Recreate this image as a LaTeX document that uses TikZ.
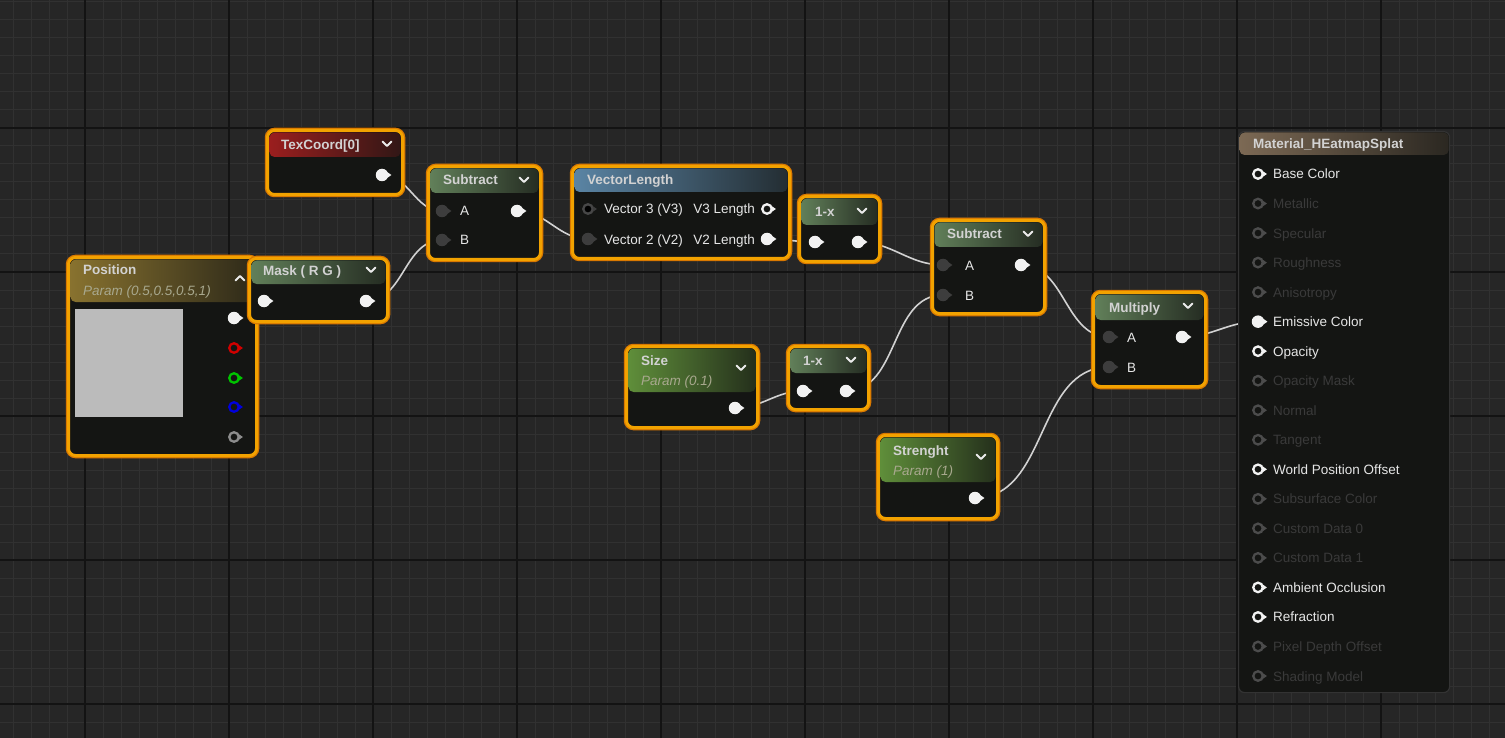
\documentclass[tikz,border=0pt]{standalone}
\usepackage{fontspec}
\setmainfont{Liberation Sans}
\definecolor{canvas}{HTML}{262626}
\definecolor{minorline}{HTML}{313131}
\definecolor{majorline}{HTML}{131313}
\definecolor{body}{HTML}{141513}
\definecolor{selorange}{HTML}{F2A200}
\definecolor{seldeep}{HTML}{D97800}
\definecolor{wirecol}{HTML}{D2D2D2}
\definecolor{titlecol}{HTML}{D2D2D2}
\definecolor{paramcol}{HTML}{A8A88E}
\definecolor{pinon}{HTML}{F2F2F2}
\definecolor{pinoff}{HTML}{3D3D3D}
\definecolor{redhead}{HTML}{9A1E1E}
\definecolor{mathhead}{HTML}{617F59}
\definecolor{bluehead}{HTML}{5A84A4}
\definecolor{paramhead}{HTML}{5F8E3A}
\definecolor{goldhead}{HTML}{88722F}
\definecolor{mathead}{HTML}{7C6954}
\definecolor{preview}{HTML}{BBBBBB}
\definecolor{posred}{HTML}{D00000}
\definecolor{posgreen}{HTML}{00C400}
\definecolor{posblue}{HTML}{0000DD}
\definecolor{posgrey}{HTML}{8C8C8C}
\definecolor{txtlive}{HTML}{E6E6E6}
\definecolor{txtfull}{HTML}{E6E6E6}
\definecolor{txtdead}{HTML}{3A3A3A}
\pgfdeclarelayer{grid}
\pgfdeclarelayer{wires}
\pgfsetlayers{grid,wires,main}

\begin{document}
\begin{tikzpicture}[x=1pt, y=-1pt,
    uenode/.style={draw=selorange, line width=3, rounded corners=7, fill=body,
        preaction={draw=seldeep, line width=5.5}, anchor=north west, inner sep=0},
    matbox/.style={draw=black!80, line width=1.2, rounded corners=6, fill=body,
        anchor=north west, inner sep=0},
    header/.style={left color=#1, right color=#1!22!body, rounded corners=5},
    title/.style={text=titlecol, font=\fontsize{13.5}{16}\selectfont\bfseries, inner sep=0, anchor=base west},
    param/.style={text=paramcol, font=\fontsize{13.5}{16}\selectfont\itshape, inner sep=0, anchor=base west},
    lbl/.style={text=txtlive, font=\fontsize{13.5}{16}\selectfont, inner sep=0, anchor=base west},
    chev/.style={draw=white!92!black, line width=1.8, line cap=round, line join=round},
    sock/.style={circle, inner sep=0, minimum size=12.5},
    sockon/.style={sock, fill=pinon},
    sockoff/.style={sock, fill=pinoff},
    sockring/.style={sock, minimum size=9.5, draw=#1, line width=2.3, fill=body},
    matlive/.style={sockring=pinon},
    matdead/.style={sockring=black!70!white},
    matfull/.style={sockon},
    tiplive/.style={fill=pinon},
    tipfull/.style={fill=pinon},
    tipdead/.style={fill=black!70!white},
    wire/.style={draw=wirecol, line width=1.6}]

    \useasboundingbox (0,0) rectangle (1505,738);
    % grid
    \begin{pgfonlayer}{grid}
        \fill[canvas] (0,0) rectangle (1505,738);
        \foreach \g in {0,...,83} \draw[minorline, line width=1] (13+18*\g,0) -- (13+18*\g,738);
        \foreach \g in {0,...,41} \draw[minorline, line width=1] (0,2+18*\g) -- (1505,2+18*\g);
        \foreach \g in {0,...,9} \draw[majorline, line width=1.5] (85+144*\g,0) -- (85+144*\g,738);
        \foreach \g in {0,...,4} \draw[majorline, line width=1.5] (0,128+144*\g) -- (1505,128+144*\g);
    \end{pgfonlayer}

    % TexCoord
    \node[uenode, minimum width=135, minimum height=64] (tex) at (266,129) {};
    \shade[header=redhead] ([shift={(3.5,3.5)}]tex.north west) rectangle ([shift={(-3.5,28)}]tex.north east);
    \node[title] (text) at (281,150) {TexCoord[0]};
    \draw[chev] (382.5,141.5) -- (387,146) -- (391.5,141.5);
    \node[sockon] (texout) at (382,175) {};

    % Position
    \node[uenode, minimum width=188, minimum height=198] (pos) at (67,256) {};
    \shade[header=goldhead] ([shift={(3.5,3.5)}]pos.north west) rectangle ([shift={(-3.5,46)}]pos.north east);
    \node[title] (post) at (83,275) {Position};
    \node[param] (posp) at (83,295) {Param (0.5,0.5,0.5,1)};
    \draw[chev] (235.5,280.5) -- (240,276) -- (244.5,280.5);
    \node[fill=preview, minimum width=108, minimum height=108, inner sep=0, anchor=north west] (posview) at (75,309) {};
    \node[sockon] (posout) at (234,318) {};
    \node[sockring=posred] (posr) at (234,348) {};
    \node[sockring=posgreen] (posg) at (234,378) {};
    \node[sockring=posblue] (posb) at (234,407) {};
    \node[sockring=posgrey] (posa) at (234,437) {};

    % Mask
    \node[uenode, minimum width=138, minimum height=63] (mask) at (248,257) {};
    \shade[header=mathhead] ([shift={(3.5,3.5)}]mask.north west) rectangle ([shift={(-3.5,27)}]mask.north east);
    \node[title] (maskt) at (263,276) {Mask ( R G )};
    \draw[chev] (366.5,267.5) -- (371,272) -- (375.5,267.5);
    \node[sockon] (maskin) at (264,301) {};
    \node[sockon] (maskout) at (366,301) {};

    % Subtract 1
    \node[uenode, minimum width=112, minimum height=93] (sub1) at (427,165) {};
    \shade[header=mathhead] ([shift={(3.5,3.5)}]sub1.north west) rectangle ([shift={(-3.5,28)}]sub1.north east);
    \node[title] (sub1t) at (443,185) {Subtract};
    \draw[chev] (519.5,177.5) -- (524,182) -- (528.5,177.5);
    \node[sockoff] (sub1a) at (442,211) {};
    \node[sockoff] (sub1b) at (442,240) {};
    \node[sockon] (sub1out) at (517,211) {};
    \node[lbl] (sub1al) at (460,216) {A};
    \node[lbl] (sub1bl) at (460,245) {B};

    % VectorLength
    \node[uenode, minimum width=217, minimum height=92] (vlen) at (571,165) {};
    \shade[header=bluehead] ([shift={(3.5,3.5)}]vlen.north west) rectangle ([shift={(-3.5,27)}]vlen.north east);
    \node[title] (vlent) at (587,185) {VectorLength};
    \node[sockring=black!72!white, fill=black] (vlv3) at (588,209) {};
    \node[sockoff] (vlv2) at (588,239) {};
    \node[sockring=pinon] (vlv3out) at (767,209) {};
    \node[sockon] (vlv2out) at (767,239) {};
    \node[lbl] (vlv3l) at (604,214) {Vector 3 (V3)};
    \node[lbl] (vlv2l) at (604,244) {Vector 2 (V2)};
    \node[lbl, anchor=base east] (vlv3r) at (755,214) {V3 Length};
    \node[lbl, anchor=base east] (vlv2r) at (755,244) {V2 Length};

    % 1-x top
    \node[uenode, minimum width=80, minimum height=65] (ox1) at (798,195) {};
    \shade[header=mathhead] ([shift={(3.5,3.5)}]ox1.north west) rectangle ([shift={(-3.5,30)}]ox1.north east);
    \node[title] (ox1t) at (815,217) {1-x};
    \draw[chev] (857.5,208.5) -- (862,213) -- (866.5,208.5);
    \node[sockon] (ox1in) at (815,242) {};
    \node[sockon] (ox1out) at (858,242) {};

    % Subtract 2
    \node[uenode, minimum width=112, minimum height=93] (sub2) at (931,219) {};
    \shade[header=mathhead] ([shift={(3.5,3.5)}]sub2.north west) rectangle ([shift={(-3.5,28)}]sub2.north east);
    \node[title] (sub2t) at (947,239) {Subtract};
    \draw[chev] (1023.5,231.5) -- (1028,236) -- (1032.5,231.5);
    \node[sockoff] (sub2a) at (943,265) {};
    \node[sockoff] (sub2b) at (943,295) {};
    \node[sockon] (sub2out) at (1021,265) {};
    \node[lbl] (sub2al) at (965,270) {A};
    \node[lbl] (sub2bl) at (965,300) {B};

    % Size
    \node[uenode, minimum width=131, minimum height=81] (size) at (625,345) {};
    \shade[header=paramhead] ([shift={(3.5,3.5)}]size.north west) rectangle ([shift={(-3.5,47)}]size.north east);
    \node[title] (sizet) at (641,365) {Size};
    \node[param] (sizep) at (641,385) {Param (0.1)};
    \draw[chev] (736.5,365.5) -- (741,370) -- (745.5,365.5);
    \node[sockon] (sizeout) at (735,408) {};

    % 1-x bottom
    \node[uenode, minimum width=80, minimum height=63] (ox2) at (787,345) {};
    \shade[header=mathhead] ([shift={(3.5,3.5)}]ox2.north west) rectangle ([shift={(-3.5,28)}]ox2.north east);
    \node[title] (ox2t) at (803,365) {1-x};
    \draw[chev] (846.5,357.5) -- (851,362) -- (855.5,357.5);
    \node[sockon] (ox2in) at (803,391) {};
    \node[sockon] (ox2out) at (846,391) {};

    % Multiply
    \node[uenode, minimum width=112, minimum height=94] (mult) at (1092,291) {};
    \shade[header=mathhead] ([shift={(3.5,3.5)}]mult.north west) rectangle ([shift={(-3.5,29)}]mult.north east);
    \node[title] (multt) at (1109,312) {Multiply};
    \draw[chev] (1183.5,303.5) -- (1188,308) -- (1192.5,303.5);
    \node[sockoff] (multa) at (1109,337) {};
    \node[sockoff] (multb) at (1109,367) {};
    \node[sockon] (multout) at (1182,337) {};
    \node[lbl] (multal) at (1127,342) {A};
    \node[lbl] (multbl) at (1127,372) {B};

    % Strenght
    \node[uenode, minimum width=119, minimum height=83] (str) at (877,434) {};
    \shade[header=paramhead] ([shift={(3.5,3.5)}]str.north west) rectangle ([shift={(-3.5,48)}]str.north east);
    \node[title] (strt) at (893,455) {Strenght};
    \node[param] (strp) at (893,475) {Param (1)};
    \draw[chev] (976.5,454.5) -- (981,459) -- (985.5,454.5);
    \node[sockon] (strout) at (975,498) {};

    % pin tips
    \foreach \p/\c in {texout/pinon, sub1a/pinoff, sub1b/pinoff, sub1out/pinon, posout/pinon,
        posr/posred, posg/posgreen, posb/posblue, posa/posgrey, maskin/pinon, maskout/pinon,
        vlv3/pinoff, vlv2/pinoff, vlv3out/pinon, vlv2out/pinon, ox1in/pinon, ox1out/pinon,
        sub2a/pinoff, sub2b/pinoff, sub2out/pinon, sizeout/pinon, ox2in/pinon, ox2out/pinon,
        multa/pinoff, multb/pinoff, multout/pinon, strout/pinon}
        \fill[\c] (\p.east) ++(-1,-2.8) -- ++(4,2.8) -- ++(-4,2.8) -- cycle;

    % material output
    \node[matbox, minimum width=211, minimum height=561] (mat) at (1238,131) {};
    \shade[header=mathead] ([shift={(1.5,1.5)}]mat.north west) rectangle ([shift={(-1.5,24)}]mat.north east);
    \node[title] (matt) at (1253,149) {Material\_HEatmapSplat};
    \foreach \lab/\st [count=\i] in {Base Color/live, Metallic/dead, Specular/dead, Roughness/dead,
        Anisotropy/dead, Emissive Color/full, Opacity/live, Opacity Mask/dead, Normal/dead,
        Tangent/dead, World Position Offset/live, Subsurface Color/dead, Custom Data 0/dead,
        Custom Data 1/dead, Ambient Occlusion/live, Refraction/live, Pixel Depth Offset/dead,
        Shading Model/dead}{
        \node[mat\st] (m\i) at (1258,{174+29.53*(\i-1)}) {};
        \fill[tip\st] (m\i.east) ++(-1,-2.8) -- ++(4,2.8) -- ++(-4,2.8) -- cycle;
        \node[lbl, text=txt\st] (mt\i) at (1273,{179+29.53*(\i-1)}) {\lab};
    }

    % wires
    \begin{pgfonlayer}{wires}
        \draw[wire] (texout.center) to[out=0, in=180] (sub1a.center);
        \draw[wire] (maskout.center) to[out=0, in=180] (sub1b.center);
        \draw[wire] (sub1out.center) to[out=0, in=180] (vlv2.center);
        \draw[wire] (vlv2out.center) to[out=0, in=180] (ox1in.center);
        \draw[wire] (ox1out.center) to[out=0, in=180] (sub2a.center);
        \draw[wire] (sizeout.center) to[out=0, in=180] (ox2in.center);
        \draw[wire] (ox2out.center) to[out=0, in=180] (sub2b.center);
        \draw[wire] (sub2out.center) to[out=0, in=180] (multa.center);
        \draw[wire] (strout.center) to[out=0, in=180] (multb.center);
        \draw[wire] (multout.center) to[out=0, in=180] (m6.center);
    \end{pgfonlayer}
\end{tikzpicture}
\end{document}
